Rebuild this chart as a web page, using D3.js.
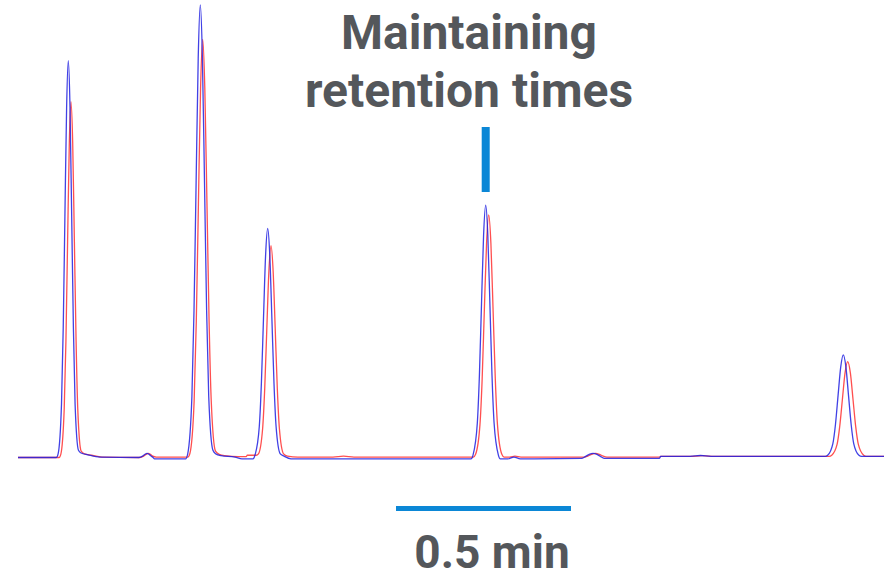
<!DOCTYPE html>
<html>
<head>
<meta charset="utf-8">
<script src="https://cdn.jsdelivr.net/npm/d3@7/dist/d3.min.js"></script>
<style>
  html, body { margin: 0; padding: 0; background: #ffffff; }
  svg { display: block; }
</style>
</head>
<body>
<svg id="chart" width="884" height="579"></svg>
<script>
// Retention time window shown (minutes) and detector signal range (mAU)
const timeDomain = [0, 2.4743];
const signalDomain = [0, 1000];

// Run 1 (blue): [time in min, signal in mAU]
const runBlue = [
  [0.000, 0], [0.100, 0],
  [0.1097, 0], [0.1146, 8], [0.1243, 119], [0.1292, 287], [0.1340, 535], [0.1389, 778],
  [0.1437, 882],
  [0.1486, 778], [0.1534, 535], [0.1583, 287], [0.1631, 119], [0.1728, 16],
  [0.180, 10], [0.200, 6], [0.234, 1], [0.345, 0],
  [0.356, 3], [0.3626, 7], [0.3686, 9], [0.3746, 7], [0.381, 3], [0.386, 0], [0.390, -3],
  [0.4789, -3], [0.4849, 8], [0.4969, 136], [0.5029, 327], [0.5089, 611], [0.5149, 887],
  [0.5209, 1006],
  [0.5269, 887], [0.5329, 611], [0.5389, 327], [0.5449, 136], [0.5569, 16],
  [0.565, 8], [0.580, 4], [0.620, 1], [0.640, -3],
  [0.6714, -3], [0.6774, 6], [0.6894, 69], [0.6954, 165], [0.7014, 309], [0.7074, 449],
  [0.7134, 509],
  [0.7194, 449], [0.7254, 309], [0.7314, 165], [0.7374, 69], [0.7494, 8],
  [0.760, 3], [0.780, -3],
  [1.2943, -3], [1.3003, 6], [1.3123, 76], [1.3183, 182], [1.3243, 341], [1.3303, 495],
  [1.3363, 561],
  [1.3423, 495], [1.3483, 341], [1.3543, 182], [1.3603, 76], [1.3723, 6], [1.3783, -3],
  [1.400, -3], [1.417, 1], [1.435, -3],
  [1.610, -2], [1.621, 2], [1.632, 7], [1.643, 9], [1.654, 7], [1.665, 2], [1.676, -2],
  [1.833, -2], [1.836, 2.5],
  [1.920, 2.5], [1.950, 4.5], [1.980, 2.5],
  [2.3059, 2.5], [2.3133, 5], [2.3282, 31], [2.3357, 74], [2.3431, 138], [2.3506, 201],
  [2.3580, 228],
  [2.3655, 201], [2.3729, 138], [2.3804, 74], [2.3878, 31], [2.4027, 5], [2.4102, 2.5],
  [2.4743, 2.5]
];

// Run 2 (red): [time in min, signal in mAU]
const runRed = [
  [0.000, 0], [0.110, 0],
  [0.1174, 0], [0.1223, 7], [0.1320, 107], [0.1369, 257], [0.1417, 480], [0.1466, 698],
  [0.1514, 791],
  [0.1563, 698], [0.1611, 480], [0.1660, 257], [0.1708, 107], [0.1805, 14],
  [0.190, 8], [0.210, 5], [0.240, 1], [0.348, 0],
  [0.359, 3], [0.366, 7], [0.372, 9], [0.378, 7], [0.385, 3], [0.395, 1],
  [0.4850, 1], [0.4911, 9], [0.5033, 126], [0.5094, 302], [0.5155, 564], [0.5216, 819],
  [0.5277, 929],
  [0.5338, 819], [0.5399, 564], [0.5460, 302], [0.5521, 126], [0.5643, 14],
  [0.575, 7], [0.590, 4], [0.630, 2], [0.652, 2], [0.655, 5],
  [0.6809, 5], [0.6869, 8], [0.6989, 64], [0.7049, 153], [0.7109, 286], [0.7169, 415],
  [0.7229, 471],
  [0.7289, 415], [0.7349, 286], [0.7409, 153], [0.7469, 64], [0.7589, 8],
  [0.770, 3], [0.800, 1],
  [0.900, 1], [0.930, 3], [0.960, 1],
  [1.3012, 1], [1.3074, 7], [1.3199, 73], [1.3262, 175], [1.3324, 327], [1.3387, 475],
  [1.3449, 539],
  [1.3512, 475], [1.3574, 327], [1.3637, 175], [1.3699, 73], [1.3824, 7], [1.3887, 1],
  [1.405, 1], [1.420, 3], [1.437, 1],
  [1.617, 1], [1.628, 3], [1.639, 7], [1.650, 9], [1.661, 7], [1.672, 3], [1.683, 1],
  [1.833, 1], [1.836, 2.5],
  [1.920, 2.5], [1.955, 4], [1.990, 2.5],
  [2.3174, 2.5], [2.3250, 5], [2.3402, 29], [2.3478, 69], [2.3554, 129], [2.3630, 188],
  [2.3706, 213],
  [2.3782, 188], [2.3858, 129], [2.3934, 69], [2.4010, 29], [2.4162, 5], [2.4238, 2.5],
  [2.4743, 2.5]
];

// Annotations
const titleLines = ["Maintaining", "retention times"];
const markedPeakTime = 1.3363;      // apex of the marked peak (min)
const scaleBarStart = 1.08;         // min
const scaleBarLength = 0.5;         // min
const scaleBarLabel = "0.5 min";

const svg = d3.select("#chart");

const x = d3.scaleLinear().domain(timeDomain).range([18, 884]);
const y = d3.scaleLinear().domain(signalDomain).range([457.5, 7.5]);

const line = d3.line()
  .x(d => x(d[0]))
  .y(d => y(d[1]))
  .curve(d3.curveMonotoneX);

svg.append("path")
  .datum(runRed)
  .attr("d", line)
  .attr("fill", "none")
  .attr("stroke", "#ff3030")
  .attr("stroke-opacity", 0.85)
  .attr("stroke-width", 1.3)
  .attr("stroke-linejoin", "round");

svg.append("path")
  .datum(runBlue)
  .attr("d", line)
  .attr("fill", "none")
  .attr("stroke", "#2020e0")
  .attr("stroke-opacity", 0.85)
  .attr("stroke-width", 1.3)
  .attr("stroke-linejoin", "round");

// Marker over the peak
svg.append("rect")
  .attr("x", x(markedPeakTime) - 4)
  .attr("y", 127)
  .attr("width", 8)
  .attr("height", 65)
  .attr("fill", "#0b87d6");

// Title
const title = svg.append("text")
  .attr("text-anchor", "middle")
  .attr("font-family", "Roboto, 'Noto Sans', sans-serif")
  .attr("font-weight", 700)
  .attr("font-size", 48)
  .attr("fill", "#54575b");
title.selectAll("tspan")
  .data(titleLines)
  .join("tspan")
  .attr("x", 469)
  .attr("y", (d, i) => 49 + i * 58)
  .text(d => d);

// Scale bar
svg.append("rect")
  .attr("x", x(scaleBarStart))
  .attr("y", 506)
  .attr("width", x(scaleBarStart + scaleBarLength) - x(scaleBarStart))
  .attr("height", 5)
  .attr("fill", "#0b87d6");

svg.append("text")
  .attr("x", 492)
  .attr("y", 568)
  .attr("text-anchor", "middle")
  .attr("font-family", "Roboto, 'Noto Sans', sans-serif")
  .attr("font-weight", 700)
  .attr("font-size", 46)
  .attr("fill", "#54575b")
  .text(scaleBarLabel);
</script>
</body>
</html>
